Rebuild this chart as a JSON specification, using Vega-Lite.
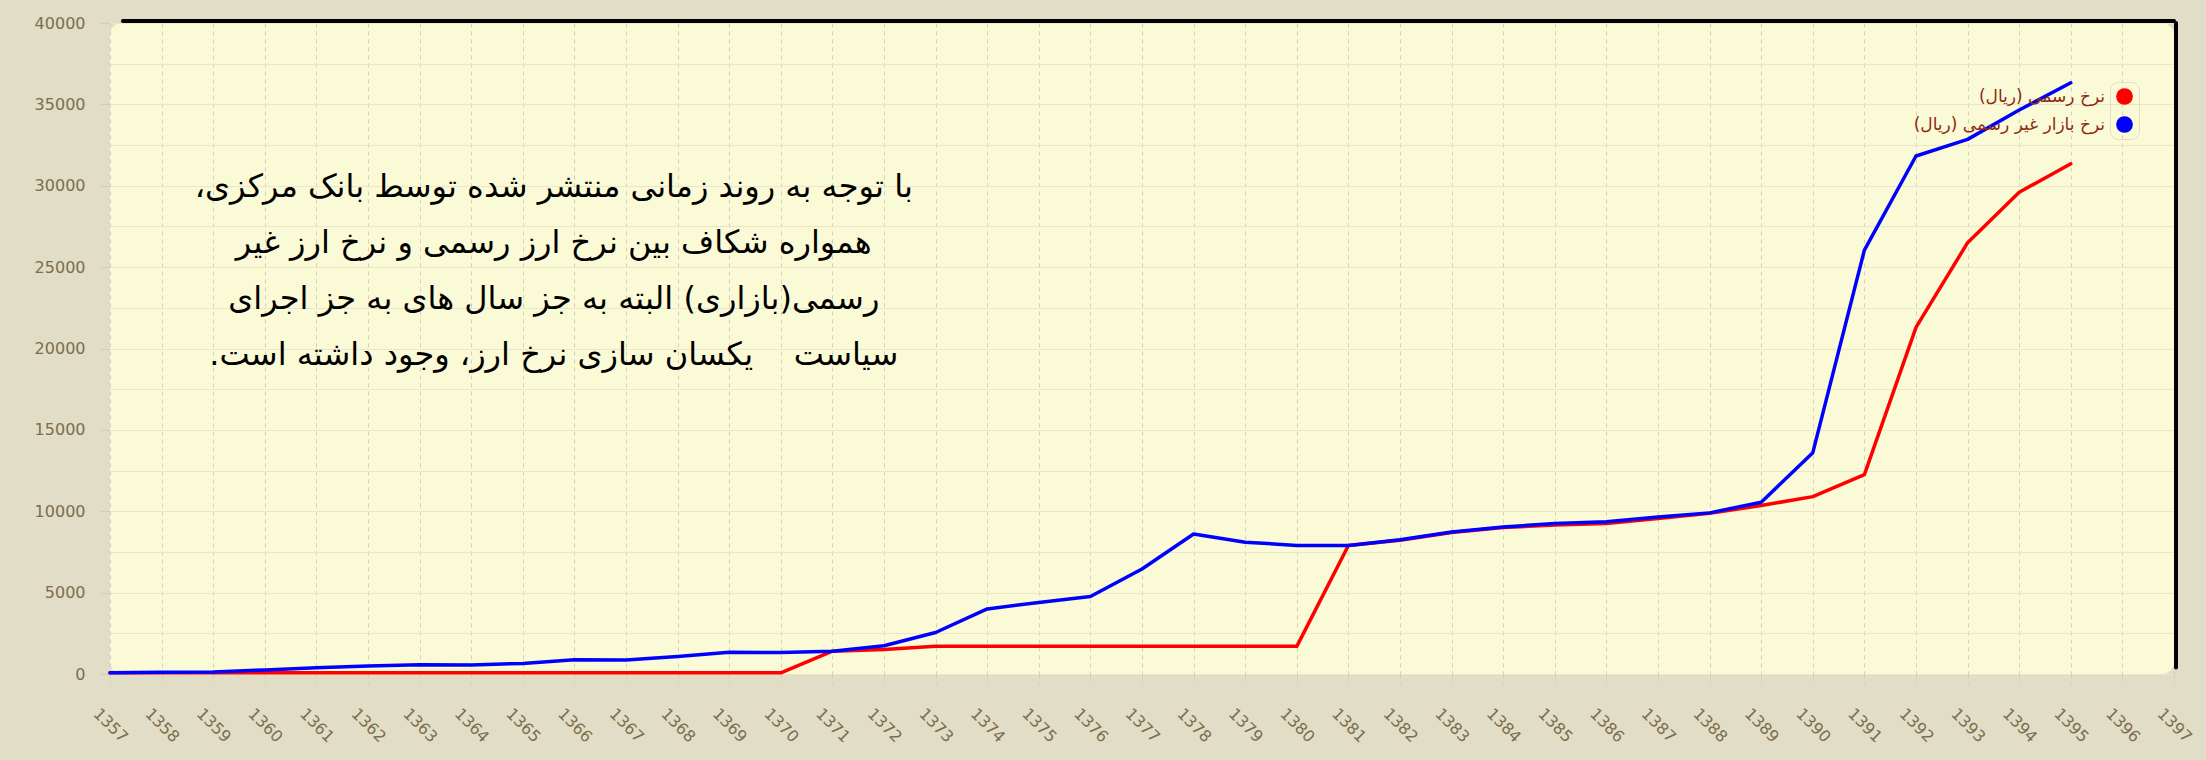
{
  "$schema": "https://vega.github.io/schema/vega-lite/v6.json",
  "width": 2064,
  "height": 651,
  "autosize": {"type": "none"},
  "padding": {"left": 110, "top": 23, "right": 32, "bottom": 86},
  "background": "#E2DDC6",
  "config": {
    "view": {"fill": "#FBFAD6", "stroke": null, "cornerRadius": 12},
    "axis": {"labelFont": "DejaVu Sans", "labelColor": "#7d6d4d", "labelFontSize": 16, "domain": false, "tickColor": "#d4ccb8", "title": null}
  },
  "datasets": {
    "rates": [
      {"year": 1357, "official": 70, "market": 70},
      {"year": 1358, "official": 70, "market": 110},
      {"year": 1359, "official": 70, "market": 120},
      {"year": 1360, "official": 70, "market": 250},
      {"year": 1361, "official": 70, "market": 390},
      {"year": 1362, "official": 70, "market": 490},
      {"year": 1363, "official": 70, "market": 570},
      {"year": 1364, "official": 70, "market": 560},
      {"year": 1365, "official": 70, "market": 650},
      {"year": 1366, "official": 70, "market": 880},
      {"year": 1367, "official": 70, "market": 860},
      {"year": 1368, "official": 70, "market": 1080},
      {"year": 1369, "official": 70, "market": 1340},
      {"year": 1370, "official": 70, "market": 1320},
      {"year": 1371, "official": 1400, "market": 1400},
      {"year": 1372, "official": 1500, "market": 1740},
      {"year": 1373, "official": 1700, "market": 2550},
      {"year": 1374, "official": 1700, "market": 4000},
      {"year": 1375, "official": 1700, "market": 4400},
      {"year": 1376, "official": 1700, "market": 4760},
      {"year": 1377, "official": 1700, "market": 6450},
      {"year": 1378, "official": 1700, "market": 8600},
      {"year": 1379, "official": 1700, "market": 8100},
      {"year": 1380, "official": 1700, "market": 7900},
      {"year": 1381, "official": 7900, "market": 7900},
      {"year": 1382, "official": 8220, "market": 8250},
      {"year": 1383, "official": 8700, "market": 8720},
      {"year": 1384, "official": 9000, "market": 9030},
      {"year": 1385, "official": 9150, "market": 9250},
      {"year": 1386, "official": 9250, "market": 9350},
      {"year": 1387, "official": 9550, "market": 9650},
      {"year": 1388, "official": 9880, "market": 9900},
      {"year": 1389, "official": 10350, "market": 10550},
      {"year": 1390, "official": 10900, "market": 13600},
      {"year": 1391, "official": 12250, "market": 26050},
      {"year": 1392, "official": 21300, "market": 31830},
      {"year": 1393, "official": 26500, "market": 32850},
      {"year": 1394, "official": 29600, "market": 34650},
      {"year": 1395, "official": 31350, "market": 36330}
    ],
    "one": [{}]
  },
  "layer": [
    {
      "data": {"name": "rates"},
      "transform": [{"fold": ["official", "market"], "as": ["series", "rate"]}],
      "mark": {"type": "line", "strokeWidth": 3.5, "strokeJoin": "round", "strokeCap": "round"},
      "encoding": {
        "x": {
          "field": "year", "type": "quantitative",
          "scale": {"domain": [1357, 1397], "nice": false, "zero": false},
          "axis": {
            "values": [1357,1358,1359,1360,1361,1362,1363,1364,1365,1366,1367,1368,1369,1370,1371,1372,1373,1374,1375,1376,1377,1378,1379,1380,1381,1382,1383,1384,1385,1386,1387,1388,1389,1390,1391,1392,1393,1394,1395,1396,1397],
            "format": "d", "labelAngle": 45, "labelAlign": "center", "labelBaseline": "middle",
            "labelPadding": 41, "tickSize": 10, "labelOverlap": false,
            "grid": true, "gridDash": [4, 4], "gridColor": "#d6cebf", "tickDash": [4, 4]
          }
        },
        "y": {
          "field": "rate", "type": "quantitative",
          "scale": {"domain": [0, 40000], "nice": false},
          "axis": {
            "values": [0,1250,2500,3750,5000,6250,7500,8750,10000,11250,12500,13750,15000,16250,17500,18750,20000,21250,22500,23750,25000,26250,27500,28750,30000,31250,32500,33750,35000,36250,37500,38750,40000],
            "format": "d",
            "labelExpr": "datum.value % 5000 === 0 ? datum.label : ''",
            "labelOverlap": false, "tickSize": 10, "labelPadding": 15,
            "tickOpacity": {"condition": {"test": "datum.value % 5000 === 0", "value": 1}, "value": 0},
            "grid": true, "gridColor": "#ebe6c9"
          }
        },
        "color": {
          "field": "series", "type": "nominal",
          "scale": {"domain": ["official", "market"], "range": ["#ff0000", "#0000ff"]},
          "legend": {
            "orient": "none", "legendX": 2000, "legendY": 59, "title": null,
            "symbolType": "circle", "symbolSize": 280, "rowPadding": 10,
            "labelAlign": "right", "labelOffset": -28, "labelColor": "#8B2A12",
            "labelFont": "DejaVu Sans", "labelFontSize": 17, "labelLimit": 400,
            "padding": 6, "strokeColor": "#e6dcc8", "cornerRadius": 8,
            "labelExpr": "datum.value == 'official' ? '\u200fنرخ رسمی (ریال)\u200f' : '\u200fنرخ بازار غیر رسمی (ریال)\u200f'",
            "encode": {"symbols": {"update": {"fill": {"scale": "color", "field": "value"}, "fillOpacity": {"value": 1}, "strokeWidth": {"value": 0}}}}
          }
        }
      }
    },
    {
      "data": {"name": "one"},
      "mark": {"type": "rule", "color": "#000000", "strokeWidth": 4, "yOffset": -2, "strokeCap": "round"},
      "encoding": {
        "x": {"datum": 1357.25, "type": "quantitative"},
        "x2": {"datum": 1397},
        "y": {"datum": 40000, "type": "quantitative"}
      }
    },
    {
      "data": {"name": "one"},
      "mark": {"type": "rule", "color": "#000000", "strokeWidth": 4, "xOffset": 2, "strokeCap": "round"},
      "encoding": {
        "x": {"datum": 1397, "type": "quantitative"},
        "y": {"datum": 400, "type": "quantitative"},
        "y2": {"datum": 40000}
      }
    },
    {
      "data": {"name": "one"},
      "mark": {
        "type": "text", "font": "DejaVu Sans", "fontSize": 32, "color": "#000000",
        "align": "center", "baseline": "middle", "lineHeight": 56,
        "text": [
          "\u200fبا توجه به روند زمانی منتشر شده توسط بانک مرکزی،\u200f",
          "\u200fهمواره شکاف بین نرخ ارز رسمی و نرخ ارز غیر\u200f",
          "\u200fرسمی(بازاری) البته به جز سال های به جز اجرای\u200f",
          "\u200fسیاست\u00a0\u00a0\u00a0 یکسان سازی نرخ ارز، وجود داشته است.\u200f"
        ]
      },
      "encoding": {
        "x": {"datum": 1365.6, "type": "quantitative"},
        "y": {"datum": 29950, "type": "quantitative"}
      }
    }
  ]
}
